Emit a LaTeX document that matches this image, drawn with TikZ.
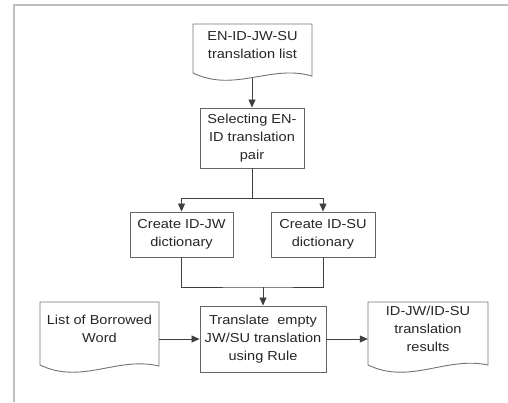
\documentclass[tikz,border=0pt]{standalone}
\usepackage{fontspec}
\setmainfont{Liberation Sans}[FakeStretch=1.12]
\usetikzlibrary{arrows.meta}
\newcommand\mydocshape[5]{%
  \draw[docline] (#1,#4) -- (#1,#2) -- (#1+#3,#2) -- (#1+#3,#4+#5)
    .. controls (#1+0.65*#3,#4-9) and (#1+0.35*#3,#4+20) .. (#1,#4) -- cycle;}
\begin{document}
\begin{tikzpicture}[x=1pt,y=-1pt,
  every node/.style={font=\fontsize{13}{18}\selectfont, align=center, text=black!85, inner sep=0pt},
  box/.style={draw=black!60, line width=0.9pt},
  docline/.style={draw=black!55, line width=0.9pt},
  doctext/.style={draw=none},
  conn/.style={draw=black!75, line width=0.8pt},
  arr/.style={conn, -{Triangle[length=8pt,width=7pt]}},
  frameline/.style={draw=black!25, line width=1.5pt}]
\useasboundingbox (0,0) rectangle (508,402);
\draw[frameline] (14,402) -- (14,5) -- (508,5);

% documents
\mydocshape{193}{24}{119}{73}{3}
\mydocshape{40}{302}{119}{365}{1}
\mydocshape{368}{302}{120}{365}{0}

\node[doctext, minimum width=119pt] (d1) at (252.5,45) {EN-ID-JW-SU\\translation list};
\node[doctext, minimum width=119pt] (dl) at (99.5,329) {List of Borrowed\\Word};
\node[doctext, minimum width=120pt] (dr) at (428,329) {ID-JW/ID-SU\\translation\\results};
\coordinate (d1b) at (252,78);

% process boxes
\node[box, minimum width=104pt, minimum height=60pt] (b2) at (252,138) {Selecting EN-\\ID translation\\pair};
\node[box, minimum width=103pt, minimum height=45pt] (b3) at (181.5,234.5) {Create ID-JW\\dictionary};
\node[box, minimum width=104pt, minimum height=45pt] (b4) at (323,234.5) {Create ID-SU\\dictionary};
\node[box, minimum width=126pt, minimum height=66pt] (b5) at (263,339) {Translate\ \ empty\\JW/SU translation\\using Rule};

% connectors
\draw[arr] (d1b) -- (d1b |- b2.north);
\draw[conn] (b2.south) -- ++(0,30) coordinate (j1);
\draw[arr] (j1) -| (b3.north);
\draw[arr] (j1) -| (b4.north);
\coordinate (j2) at (263,287);
\draw[conn] (b3.south) |- (j2) -| (b4.south);
\draw[arr] (j2) -- (b5.north);
\draw[arr] (dl.east |- b5.west) -- (b5.west);
\draw[arr] (b5.east) -- (dr.west |- b5.east);
\end{tikzpicture}
\end{document}
